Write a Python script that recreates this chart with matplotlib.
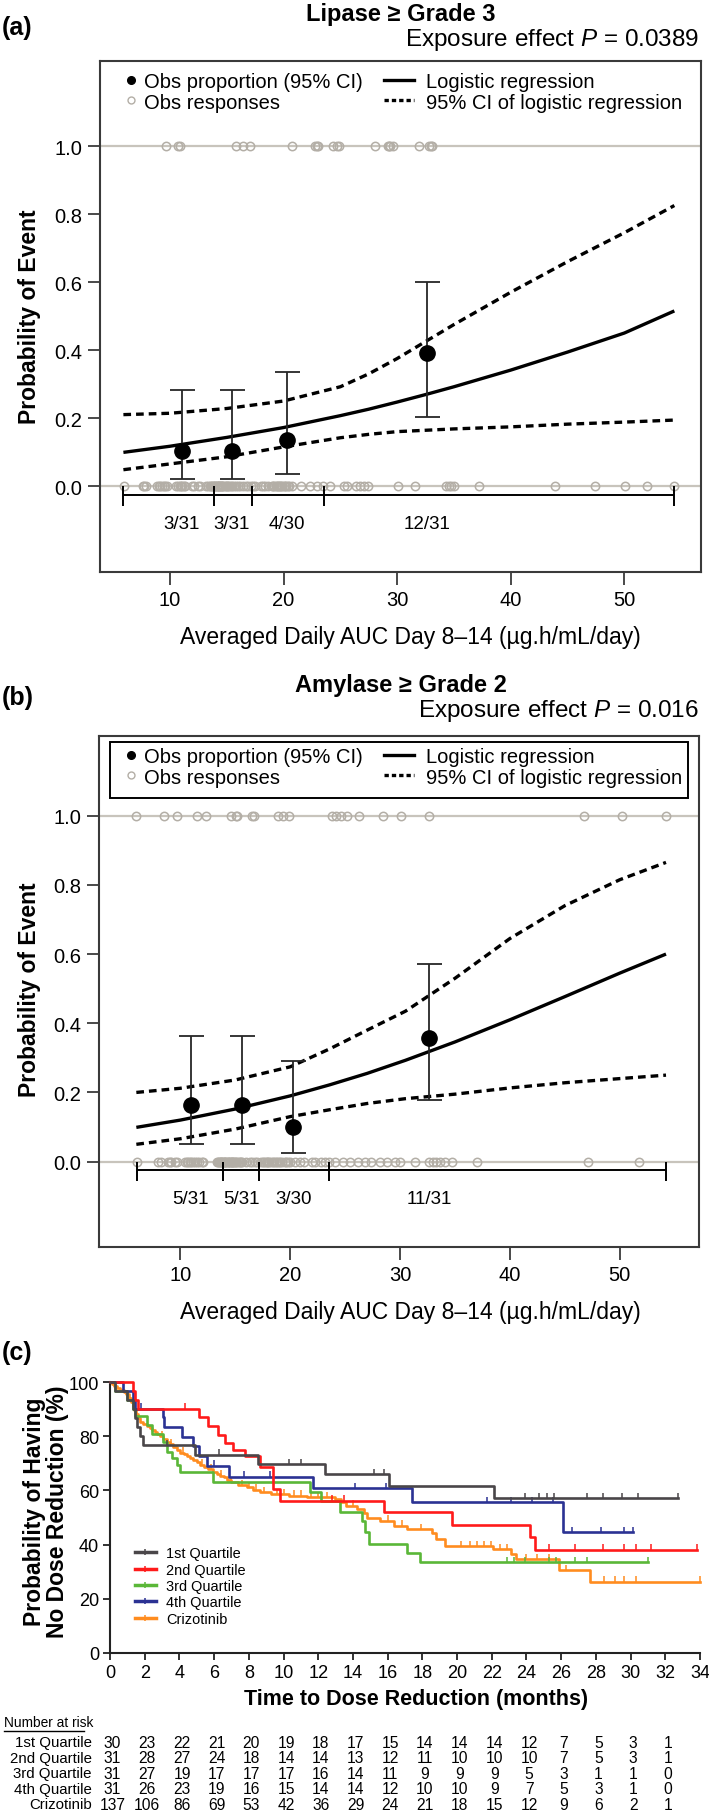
import numpy as np
import matplotlib
matplotlib.use("Agg")
import matplotlib.pyplot as plt
from matplotlib.lines import Line2D
from matplotlib.patches import Rectangle
from matplotlib import transforms, font_manager

# ===================== DATA =====================
# ---- Panel (a): Lipase >= Grade 3 ----
a_title = "Lipase \u2265 Grade 3"
a_ptext = "Exposure effect $P$ = 0.0389"
a_bin_x = [11.03, 15.43, 20.33, 32.65]
a_prop = [0.102, 0.102, 0.135, 0.390]
a_ci_lo = [0.021, 0.021, 0.034, 0.204]
a_ci_hi = [0.283, 0.283, 0.335, 0.600]
a_bin_edges = [5.89, 13.85, 17.22, 23.53, 54.37]
a_bin_labels = ["3/31", "3/31", "4/30", "12/31"]
a_fit_x = [5.9, 10, 15, 20, 25, 27.5, 30, 32.5, 35, 40, 45, 50, 54.4]
a_fit = [0.099, 0.117, 0.143, 0.172, 0.207, 0.226, 0.247, 0.269, 0.292, 0.341, 0.394, 0.450, 0.515]
a_fit_hi = [0.210, 0.214, 0.228, 0.250, 0.292, 0.330, 0.375, 0.425, 0.475, 0.570, 0.660, 0.745, 0.825]
a_fit_lo = [0.048, 0.065, 0.086, 0.115, 0.142, 0.152, 0.160, 0.164, 0.168, 0.174, 0.182, 0.188, 0.194]
a_resp_one = [9.63, 10.75, 10.9, 15.8, 16.47, 17.08, 20.75, 22.81, 22.95, 23.04,
              24.38, 24.66, 24.9, 28.03, 29.17, 29.3, 29.37, 29.6, 31.9, 32.8, 32.95, 33.05]
a_resp_zero = [5.93, 7.6, 7.75, 7.9, 8.9, 9.05, 9.16, 9.3, 9.46, 9.6, 9.74, 10.57, 10.7, 10.85,
               10.95, 11.08, 11.2, 11.32, 11.92, 12.1, 12.43, 12.6, 13.2, 13.37, 13.5, 13.6, 13.7, 13.8,
               13.9, 13.95, 14.0, 14.1, 14.15, 14.2, 14.3, 14.35, 14.4, 14.5, 14.55, 14.6, 14.7, 14.8,
               14.9, 15.0, 15.1, 15.2, 15.35, 15.5, 15.65, 15.8, 16.0, 16.2, 16.45, 16.7, 16.9, 17.15,
               17.3, 17.5, 18.0, 18.15, 18.4, 18.6, 19.0, 19.1, 19.2, 19.3, 19.4, 19.5, 19.6, 19.7,
               19.8, 19.9, 20.0, 20.1, 20.2, 20.35, 20.5, 20.7, 21.5, 22.3, 22.9, 23.5,
               24.05, 25.3, 25.56, 26.41, 26.74, 27.08, 27.42, 30.11, 31.53, 34.3, 34.56, 34.76,
               35.0, 37.19, 43.86, 47.4, 50.1, 51.95, 54.37]

# ---- Panel (b): Amylase >= Grade 2 ----
b_title = "Amylase \u2265 Grade 2"
b_ptext = "Exposure effect $P$ = 0.016"
b_bin_x = [10.97, 15.58, 20.28, 32.64]
b_prop = [0.163, 0.163, 0.100, 0.357]
b_ci_lo = [0.051, 0.051, 0.025, 0.177]
b_ci_hi = [0.364, 0.364, 0.291, 0.570]
b_bin_edges = [6.03, 13.86, 17.13, 23.55, 54.2]
b_bin_labels = ["5/31", "5/31", "3/30", "11/31"]
b_fit_x = [6, 10, 15, 20, 23.6, 27, 30.5, 35, 40, 45, 50, 54.2]
b_fit = [0.099, 0.120, 0.152, 0.190, 0.222, 0.255, 0.293, 0.346, 0.410, 0.477, 0.545, 0.600]
b_fit_hi = [0.200, 0.212, 0.236, 0.274, 0.326, 0.380, 0.435, 0.530, 0.645, 0.740, 0.815, 0.865]
b_fit_lo = [0.050, 0.066, 0.094, 0.130, 0.150, 0.168, 0.182, 0.195, 0.213, 0.228, 0.240, 0.250]
b_resp_one = [6.01, 8.54, 9.7, 11.48, 12.33, 14.64, 15.07, 15.2, 16.53, 16.7, 18.85, 19.38,
              19.91, 23.8, 24.2, 24.6, 25.17, 26.22, 28.43, 30.11, 32.64, 46.73, 50.2, 54.2]
b_resp_zero = [6.03, 8.0, 8.2, 8.9, 9.1, 9.2, 9.5, 9.7, 10.4, 10.6, 10.7, 10.9, 11.0, 11.2, 11.3,
               11.5, 11.7, 12.0, 12.1, 13.3, 13.4, 13.5, 13.6, 13.7, 13.75, 13.8,
               13.9, 14.0, 14.05, 14.1, 14.2, 14.3, 14.35, 14.4, 14.5, 14.6, 14.7, 14.75, 14.8, 14.9,
               15.0, 15.1, 15.2, 15.3, 15.4, 15.5, 15.6, 16.0, 16.3, 16.5, 16.8, 17.0,
               17.3, 17.5, 17.6, 17.8, 17.9, 18.0, 18.1, 18.3, 18.4, 18.5, 18.7, 18.8, 19.0, 19.1,
               19.3, 19.5, 19.6, 19.8, 20.0, 20.4, 20.9, 21.3, 22.0, 22.3, 22.8, 23.2, 23.5,
               24.1, 24.8, 25.4, 26.2, 26.8, 27.4, 28.2, 28.8, 29.5, 30.0, 31.4, 32.6, 33.0, 33.3,
               33.6, 34.1, 34.7, 37.0, 47.1, 51.7]

x_ticks_ab = [10, 20, 30, 40, 50]
y_ticks_ab = [0.0, 0.2, 0.4, 0.6, 0.8, 1.0]
y_ticklabels_ab = ["0.0", "0.2", "0.4", "0.6", "0.8", "1.0"]

# ---- Panel (c): Kaplan-Meier, time to dose reduction ----
q1_t = [0.3, 0.96, 1.31, 1.45, 1.54, 1.73, 1.89, 4.87, 8.55, 12.37, 16.08, 22.12]
q1_s = [96.7, 93.3, 90.0, 86.7, 83.3, 80.0, 76.7, 73.2, 69.8, 66.1, 61.8, 57.2]
q1_end = 32.75
q1_cens = [3.3, 6.3, 10.3, 11.0, 15.2, 15.8, 23.9, 24.7, 25.2, 25.6, 27.5, 28.4, 29.5, 30.4, 32.75]

q2_t = [1.31, 1.45, 1.6, 5.15, 5.67, 6.25, 6.6, 7.1, 7.78, 8.65, 9.38, 9.8, 15.81, 19.72, 24.2, 24.49]
q2_s = [96.8, 93.5, 90.3, 87.1, 83.9, 80.6, 77.4, 75.0, 72.6, 68.6, 60.5, 56.2, 52.1, 47.3, 42.7, 38.1]
q2_end = 33.8
q2_cens = [4.33, 12.8, 13.5, 25.3, 26.8, 28.4, 29.6, 30.3, 31.2, 33.8]

q3_t = [0.3, 0.96, 1.31, 1.45, 2.12, 2.41, 3.04, 3.27, 3.6, 3.85, 4.04, 5.96, 11.53, 12.17,
        13.26, 14.51, 14.72, 14.9, 17.12, 17.85]
q3_s = [96.8, 93.5, 90.3, 87.4, 84.3, 81.0, 77.8, 74.2, 72.0, 69.6, 66.7, 63.0, 59.3, 56.2,
        51.9, 48.8, 44.5, 40.2, 36.9, 33.5]
q3_end = 30.98
q3_cens = [22.9, 23.3, 23.9, 25.3, 25.7, 26.8, 27.5, 30.98]

q4_t = [0.74, 1.31, 1.45, 3.04, 3.1, 4.13, 4.8, 5.15, 5.6, 6.87, 11.7, 17.43, 26.1]
q4_s = [96.8, 93.5, 90.3, 87.1, 83.4, 79.7, 76.6, 72.6, 69.2, 65.1, 60.8, 55.6, 44.5]
q4_end = 30.14
q4_cens = [1.8, 6.0, 7.7, 9.2, 14.1, 15.9, 21.7, 23.1, 24.3, 25.5, 26.6, 28.3, 29.6, 30.14]

cz_t = [0.1, 0.25, 0.4, 0.6, 0.8, 0.95, 1.1, 1.2, 1.3, 1.4, 1.5, 1.6, 1.73, 1.9, 2.12, 2.3, 2.41,
        2.6, 2.7, 2.9, 3.08, 3.27, 3.45, 3.65, 3.85, 4.04, 4.25, 4.42, 4.6, 4.8, 5.0, 5.19, 5.4,
        5.65, 5.96, 6.17, 6.34, 6.56, 6.73, 6.95, 7.35, 7.87, 8.26, 8.65, 9.3, 10.34, 11.38, 12.95,
        13.34, 13.6, 14.25, 14.64, 14.82, 15.55, 16.34, 17.12, 18.55, 18.81, 19.33, 22.07, 23.11,
        23.37, 25.85, 27.67]
cz_s = [99.3, 98.5, 97.8, 97.1, 96.4, 95.6, 94.2, 92.7, 91.2, 89.8, 88.3, 86.9, 85.4, 84.7, 84.0,
        83.2, 82.5, 81.8, 81.0, 80.0, 79.0, 78.0, 77.0, 76.0, 75.0, 74.0, 73.4, 72.8, 72.0, 71.2,
        70.4, 69.5, 68.7, 67.9, 66.9, 66.1, 65.5, 64.9, 63.9, 63.0, 62.0, 61.2, 60.3, 59.3, 58.7,
        58.1, 57.4, 56.8, 55.6, 54.3, 53.1, 51.6, 50.0, 48.8, 46.9, 45.7, 44.3, 42.0, 39.3, 38.3,
        36.5, 34.6, 30.6, 26.3]
cz_end = 34.0
cz_cens = [3.0, 3.5, 4.2, 5.3, 5.8, 6.4, 7.0, 7.6, 8.0, 8.4, 8.9, 9.6, 10.0, 10.6, 11.0, 11.6,
           12.0, 12.5, 14.0, 16.0, 16.8, 17.9, 20.25, 20.77, 21.16, 21.55, 21.94, 22.46, 22.85,
           24.0, 24.6, 25.3, 26.3, 28.45, 29.1, 29.6, 30.3, 34.0]

km_labels = ["1st Quartile", "2nd Quartile", "3rd Quartile", "4th Quartile", "Crizotinib"]
km_colors = ["#4a4649", "#ff1a1a", "#5ab738", "#2b3293", "#ff8c1f"]

risk_times = list(range(0, 33, 2))
risk_q1 = [30, 23, 22, 21, 20, 19, 18, 17, 15, 14, 14, 14, 12, 7, 5, 3, 1]
risk_q2 = [31, 28, 27, 24, 18, 14, 14, 13, 12, 11, 10, 10, 10, 7, 5, 3, 1]
risk_q3 = [31, 27, 19, 17, 17, 17, 16, 14, 11, 9, 9, 9, 5, 3, 1, 1, 0]
risk_q4 = [31, 26, 23, 19, 16, 15, 14, 14, 12, 10, 10, 9, 7, 5, 3, 1, 0]
risk_cz = [137, 106, 86, 69, 53, 42, 36, 29, 24, 21, 18, 15, 12, 9, 6, 2, 1]

# ===================== STYLE / LAYOUT =====================
W, H = 709, 1815
SANS = ["Liberation Sans", "DejaVu Sans"]
plt.rcParams["font.family"] = SANS
plt.rcParams["mathtext.fontset"] = "custom"
plt.rcParams["mathtext.rm"] = "Liberation Sans"
plt.rcParams["mathtext.it"] = "Liberation Sans:italic"

names = {f.name for f in font_manager.fontManager.ttflist}
HAS_NARROW = "Liberation Sans Narrow" in names
NARROW = ["Liberation Sans Narrow", "DejaVu Sans"] if HAS_NARROW else ["Liberation Sans", "DejaVu Sans"]
NK = 1.0 if HAS_NARROW else 0.9

SPINE = "#3a3a3a"
GRIDC = "#c8c4bc"
CIRC = "#b3aea6"

fig = plt.figure(figsize=(W / 100, H / 100), dpi=100)
PX = transforms.Affine2D().scale(1.0 / W, -1.0 / H).translate(0, 1) + fig.transFigure


def ptext(x, y, s, **kw):
    return fig.text(x, y, s, transform=PX, **kw)


def logistic_panel(L, xlim, ylim, fx_, f_, fhi, flo, r0, r1, bx, prop, lo, hi,
                   edges, labels, title, ptxt, tag):
    l, t, r, b = L["box"]
    ax = fig.add_axes([l / W, 1 - b / H, (r - l) / W, (b - t) / H])
    ax.set_xlim(*xlim)
    ax.set_ylim(*ylim)
    ax.axhline(0, color=GRIDC, lw=1.6, zorder=1)
    ax.axhline(1, color=GRIDC, lw=1.6, zorder=1)
    ax.plot(r0, np.zeros(len(r0)), ls="none", marker="o", ms=6, mfc="none",
            mec=CIRC, mew=1.1, zorder=2)
    ax.plot(r1, np.ones(len(r1)), ls="none", marker="o", ms=6, mfc="none",
            mec=CIRC, mew=1.1, zorder=2)
    # bins bracket
    ax.hlines(L["br_y"], edges[0], edges[-1], color="black", lw=1.4, zorder=3)
    ax.vlines(edges, L["br_tick"], 0.0, color="black", lw=1.4, zorder=3)
    for xx, lab in zip(bx, labels):
        ax.text(xx, L["lab_y"], lab, ha="center", va="center", fontsize=13.5)
    # logistic fit
    ax.plot(fx_, f_, color="black", lw=2.4, zorder=4, solid_capstyle="butt")
    ax.plot(fx_, fhi, color="black", lw=2.4, ls=(0, (2.3, 1.5)), zorder=4)
    ax.plot(fx_, flo, color="black", lw=2.4, ls=(0, (2.3, 1.5)), zorder=4)
    # observed proportions
    p = np.array(prop)
    yerr = [p - np.array(lo), np.array(hi) - p]
    ax.errorbar(bx, p, yerr=yerr, fmt="o", color="black", ms=11, ecolor="#262626",
                elinewidth=1.3, capsize=9, capthick=1.3, zorder=5)
    for sp in ax.spines.values():
        sp.set_linewidth(1.5)
        sp.set_color(SPINE)
    ax.set_xticks(x_ticks_ab)
    ax.set_yticks(y_ticks_ab)
    ax.set_yticklabels(y_ticklabels_ab)
    ax.tick_params(direction="out", length=9, width=1.3, color=SPINE, labelsize=14.5, pad=4)
    # legend (two columns)
    h_dot = Line2D([], [], ls="none", marker="o", color="black", ms=5.5)
    h_circ = Line2D([], [], ls="none", marker="o", mfc="none", mec=CIRC, mew=1.0, ms=5)
    h_line = Line2D([], [], color="black", lw=2.4)
    h_dash = Line2D([], [], color="black", lw=2.4, ls=(0, (1.3, 0.9)))
    common = dict(loc="upper left", bbox_transform=PX, frameon=False, fontsize=14.5,
                  borderpad=0, borderaxespad=0, labelspacing=0.05)
    leg1 = ax.legend([h_dot, h_circ], ["Obs proportion (95% CI)", "Obs responses"],
                     bbox_to_anchor=(123, L["leg_top"]), handlelength=0.8,
                     handletextpad=0.25, **common)
    ax.add_artist(leg1)
    ax.legend([h_line, h_dash], ["Logistic regression", "95% CI of logistic regression"],
              bbox_to_anchor=(383.5, L["leg_top"]), handlelength=1.5,
              handletextpad=0.62, **common)
    if L.get("frame") is not None:
        fl, ft, fr, fb = L["frame"]
        fig.add_artist(Rectangle((fl, ft), fr - fl, fb - ft, transform=PX, fill=False,
                                 lw=1.4, edgecolor="black"))
    # texts
    ptext(401, L["title_y"], title, ha="center", va="center", fontsize=17, fontweight="bold")
    ptext(699, L["ptxt_y"], ptxt, ha="right", va="center", fontsize=17.5)
    ptext(2, L["tag_y"], tag, ha="left", va="center", fontsize=18, fontweight="bold")
    ptext(410, L["xlab_y"], "Averaged Daily AUC Day 8\u201314 (\u00b5g.h/mL/day)",
          ha="center", va="center", fontsize=16.5)
    ptext(30, L["ylab_y"], "Probability of Event", rotation=90, ha="center", va="center",
          fontsize=16.5, fontweight="bold")
    return ax


LA = dict(box=(100, 61.7, 700.7, 572.7), br_y=-0.026, br_tick=-0.058, lab_y=-0.109,
          leg_top=73.5, frame=None, title_y=15, ptxt_y=40, tag_y=28, xlab_y=638, ylab_y=317)
logistic_panel(LA, (3.84, 56.72), (-0.252, 1.251), a_fit_x, a_fit, a_fit_hi, a_fit_lo,
               a_resp_zero, a_resp_one, a_bin_x, a_prop, a_ci_lo, a_ci_hi,
               a_bin_edges, a_bin_labels, a_title, a_ptext, "(a)")

LB = dict(box=(99.3, 736.8, 699.3, 1247.7), br_y=-0.024, br_tick=-0.055, lab_y=-0.106,
          leg_top=748.5, frame=(109.6, 742.7, 687.5, 799.3), title_y=686, ptxt_y=711,
          tag_y=698, xlab_y=1313, ylab_y=990)
logistic_panel(LB, (2.63, 57.23), (-0.246, 1.231), b_fit_x, b_fit, b_fit_hi, b_fit_lo,
               b_resp_zero, b_resp_one, b_bin_x, b_prop, b_ci_lo, b_ci_hi,
               b_bin_edges, b_bin_labels, b_title, b_ptext, "(b)")

# ===================== PANEL (c) =====================
axc = fig.add_axes([110 / W, 1 - 1653.7 / H, 590 / W, 270.4 / H])
axc.set_xlim(0, 34)
axc.set_ylim(0, 100)
for sp in ["top", "right"]:
    axc.spines[sp].set_visible(False)
for sp in ["left", "bottom"]:
    axc.spines[sp].set_linewidth(1.5)
    axc.spines[sp].set_color("#222222")
axc.set_xticks(np.arange(0, 35, 2))
axc.set_yticks([0, 20, 40, 60, 80, 100])
axc.tick_params(direction="out", length=5, width=1.3, color="#222222", labelsize=14.5 * NK, pad=3)
for lab in axc.get_xticklabels() + axc.get_yticklabels():
    lab.set_fontfamily(NARROW)

groups = [
    (cz_t, cz_s, cz_end, cz_cens, km_colors[4], 2),
    (q3_t, q3_s, q3_end, q3_cens, km_colors[2], 3),
    (q4_t, q4_s, q4_end, q4_cens, km_colors[3], 4),
    (q2_t, q2_s, q2_end, q2_cens, km_colors[1], 5),
    (q1_t, q1_s, q1_end, q1_cens, km_colors[0], 6),
]
for t, s, end, cens, col, z in groups:
    xs = np.r_[0.0, t, end]
    ys = np.r_[100.0, s, s[-1]]
    axc.plot(xs, ys, drawstyle="steps-post", color=col, lw=1.9, clip_on=False, zorder=z)
    levels = np.r_[100.0, s]
    idx = np.searchsorted(np.array(t), np.array(cens), side="right")
    axc.plot(cens, levels[idx] + 0.9, ls="none", marker="|", ms=5, mew=1.1, color=col,
             clip_on=False, zorder=z)

fs_leg = 11.6 * NK
fs_px = fs_leg * 100 / 72
handles = [Line2D([], [], color=c, lw=2.5, marker="|", ms=5, mew=1.1) for c in km_colors]
axc.legend(handles, km_labels, loc="upper left", bbox_to_anchor=(134.8, 1547.5),
           bbox_transform=PX, frameon=False, prop={"family": NARROW, "size": fs_leg},
           borderpad=0, borderaxespad=0, handlelength=21 / fs_px, handletextpad=10.4 / fs_px,
           labelspacing=max(0.0, (19 - 1.15 * fs_px) / fs_px), numpoints=1)

ptext(416, 1700, "Time to Dose Reduction (months)", ha="center", va="center",
      fontsize=15.5, fontweight="bold")
ptext(46, 1512, "Probability of Having\nNo Dose Reduction (%)", rotation=90, ha="center",
      va="center", fontsize=16.5, fontweight="bold", linespacing=0.98, multialignment="center")
ptext(2, 1353, "(c)", ha="left", va="center", fontsize=18, fontweight="bold")

# Number at risk table
ptext(3.6, 1723.3, "Number at risk", ha="left", va="center", fontsize=11 * NK, family=NARROW)
fig.add_artist(Line2D([3.6, 83.7], [1732.3, 1732.3], transform=PX, color="black", lw=1.0))
tr = transforms.blended_transform_factory(axc.transData, PX)
rows = [(km_labels[0], risk_q1, 1743.3), (km_labels[1], risk_q2, 1759.0),
        (km_labels[2], risk_q3, 1774.5), (km_labels[3], risk_q4, 1790.0),
        (km_labels[4], risk_cz, 1805.5)]
for lab, vals, yy in rows:
    ptext(91.8, yy, lab, ha="right", va="center", fontsize=12 * NK, family=NARROW)
    for tt, v in zip(risk_times, vals):
        fig.text(tt + 0.15, yy, str(v), transform=tr, ha="center", va="center",
                 fontsize=12.5 * NK, family=NARROW)

fig.savefig("out.png", dpi=100)
